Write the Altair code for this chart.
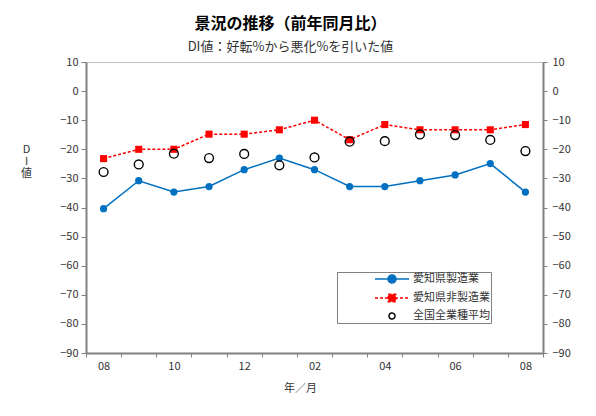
import altair as alt
import pandas as pd

# ---- data ----
months = ["07/08", "07/09", "07/10", "07/11", "07/12", "08/01", "08/02",
          "08/03", "08/04", "08/05", "08/06", "08/07", "08/08"]
series_names = ["愛知県製造業", "愛知県非製造業", "全国全業種平均"]
aichi_mfg = [-40.4, -30.8, -34.7, -32.8, -27.0, -23.0, -27.0,
             -32.8, -32.8, -30.8, -28.8, -24.9, -34.7]
aichi_nonmfg = [-23.2, -20.0, -20.0, -14.8, -14.8, -13.3, -10.0,
                -16.7, -11.5, -13.3, -13.3, -13.3, -11.5]
national_avg = [-27.8, -25.2, -21.5, -23.0, -21.6, -25.5, -22.8,
                -17.4, -17.2, -14.9, -15.1, -16.8, -20.6]
y_ticks = [-90, -80, -70, -60, -50, -40, -30, -20, -10, 0, 10]

rows = []
for name, vals in zip(series_names, [aichi_mfg, aichi_nonmfg, national_avg]):
    for m, v in zip(months, vals):
        rows.append({"month": m, "series": name, "value": v})
df = pd.DataFrame(rows)

FONT = "Noto Sans CJK JP"
BLUE = "#0070C0"
RED = "#FF0000"
TXT = "#333333"

xscale = alt.Scale(type="band", paddingInner=0, paddingOuter=0)
X = alt.X(
    "month:O", sort=months, bandPosition=0.5, scale=xscale,
    axis=alt.Axis(
        title="年／月", titleX=214, titleY=29, titleBaseline="top",
        titleFontWeight="normal", titleFontSize=11, titleColor=TXT,
        labelExpr="(+slice(datum.value + '', 3)) % 2 == 0 ? slice(datum.value + '', 3) : ''",
        labelAngle=0, tickBand="extent", tickSize=4, labelPadding=3,
    ),
)

yscale = alt.Scale(domain=[-90, 10], nice=False, zero=False)
Y_left = alt.Y(
    "value:Q", scale=yscale,
    axis=alt.Axis(
        values=y_ticks, orient="left", title=["D", "I", "値"], titleAngle=0,
        titleX=-60, titleY=81, titleAlign="center", titleBaseline="top",
        titleLineHeight=12, titleFontWeight="normal", titleFontSize=11,
        titleColor=TXT, tickSize=5, labelPadding=3,
    ),
)
Y_right = alt.Y(
    "value:Q", scale=yscale,
    axis=alt.Axis(values=y_ticks, orient="right", title=None, tickSize=4,
                  labelPadding=5),
)
Y = alt.Y("value:Q", scale=yscale, axis=None)

base = alt.Chart(df)


def only(name):
    return base.transform_filter(alt.datum.series == name)


blue_line = only(series_names[0]).mark_line(color=BLUE, strokeWidth=1.5).encode(x=X, y=Y_left)
blue_pt = only(series_names[0]).mark_point(
    shape="circle", filled=True, color=BLUE, size=52, opacity=1).encode(x=X, y=Y)
red_line = only(series_names[1]).mark_line(
    color=RED, strokeWidth=1.5, strokeDash=[3, 2]).encode(x=X, y=Y)
red_pt = only(series_names[1]).mark_point(
    shape="square", filled=True, color=RED, size=50, opacity=1).encode(x=X, y=Y)
black_pt = only(series_names[2]).mark_point(
    shape="circle", filled=False, color="black", strokeWidth=1.4, size=78,
    opacity=1).encode(x=X, y=Y)
right = base.mark_point(opacity=0).encode(x=X, y=Y_right)

# legend-only layer (all rows filtered out; scales have explicit domains)
sym_blue = ("M-3.4,0L3.4,0M-0.8,0A0.8,0.8,0,1,0,0.8,0"
            "A0.8,0.8,0,1,0,-0.8,0Z")
sym_red = "M-3.4,0L3.4,0M-0.74,-0.74L0.74,-0.74L0.74,0.74L-0.74,0.74Z"
sym_black = "M-0.6,0A0.6,0.6,0,1,0,0.6,0A0.6,0.6,0,1,0,-0.6,0Z"

legend = alt.Legend(
    title=None, orient="none", legendX=251, legendY=210, padding=1,
    rowPadding=5, symbolOffset=48, labelOffset=15, strokeColor="#808080",
    fillColor="white", symbolSize=100, symbolStrokeWidth=1.5,
    labelFontSize=11, labelFont=FONT, labelColor=TXT,
    labelExpr="datum.label + '\u3000\u3000\u2002\u2002\u2002\u2002\u2009\u2009'",
)
legend_layer = base.transform_filter(alt.datum.value > 1000).mark_point(
    opacity=1, strokeWidth=1.5).encode(
    x=X, y=Y,
    stroke=alt.Stroke("series:N", scale=alt.Scale(domain=series_names, range=[BLUE, RED, "black"]), legend=legend),
    fill=alt.Fill("series:N", scale=alt.Scale(domain=series_names, range=[BLUE, RED, "white"]), legend=legend),
    shape=alt.Shape("series:N", scale=alt.Scale(domain=series_names, range=[sym_blue, sym_red, sym_black]), legend=legend),
    strokeDash=alt.StrokeDash("series:N", scale=alt.Scale(domain=series_names, range=[[1, 0], [3, 2], [1, 0]]), legend=legend),
)

chart = alt.layer(
    blue_line, blue_pt, red_line, red_pt, black_pt, right, legend_layer
).resolve_axis(y="independent").properties(
    width=457, height=291,
    autosize=alt.AutoSizeParams(type="none"),
    padding={"left": 78, "top": 54, "right": 45, "bottom": 55},
    background="white",
    title=alt.TitleParams(
        "景況の推移（前年同月比）", subtitle="DI値：好転%から悪化%を引いた値",
        anchor="middle", fontSize=16, fontWeight="bold", font=FONT,
        color="black", subtitleFont=FONT, subtitleFontSize=13,
        subtitleColor=TXT, subtitlePadding=9, offset=2, dx=-24,
    ),
).configure_view(
    stroke="#c0c0c0", strokeWidth=1,
).configure_axis(
    grid=False, domainColor="#808080", domainWidth=2, tickColor="#808080",
    labelFont=FONT, titleFont=FONT, labelFontSize=11, labelColor=TXT,
)

chart.save("out.html", embed_options={"renderer": "svg", "actions": False})
